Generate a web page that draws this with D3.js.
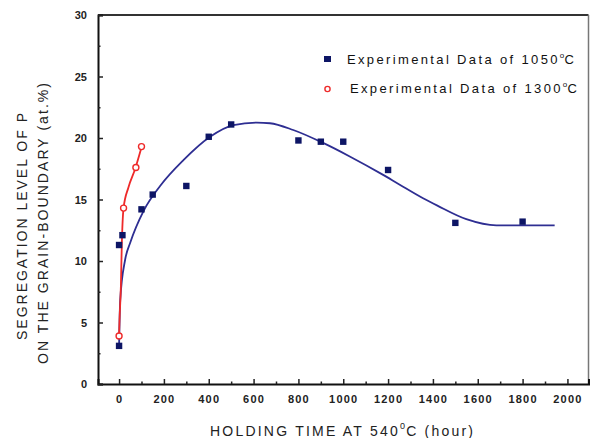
<!DOCTYPE html>
<html>
<head>
<meta charset="utf-8">
<script src="https://cdn.jsdelivr.net/npm/d3@7"></script>
<style>
  body { margin: 0; background: #fff; }
  svg { display: block; font-family: "Liberation Sans", Arial, sans-serif; }
</style>
</head>
<body>
<div id="chart"></div>
<script>
// Measured points (hours, at.%)
const time1050 = [0, 0, 15, 100, 150, 300, 400, 500, 800, 900, 1000, 1200, 1500, 1800];
const seg1050 = [3.1, 11.3, 12.1, 14.2, 15.4, 16.1, 20.1, 21.1, 19.8, 19.7, 19.7, 17.4, 13.1, 13.2];
const time1300 = [0, 20, 75, 100];
const seg1300 = [3.9, 14.3, 17.6, 19.3];

// Fitted curves
const fitTime1050 = [0, 5, 27, 50, 110, 183, 287, 406, 510, 614, 673, 777, 910, 1029, 1178, 1252, 1356, 1420, 1549, 1683, 1943];
const fitSeg1050 = [3.1, 6.8, 10.1, 11.5, 14.1, 16.1, 18.2, 20.1, 21.05, 21.25, 21.2, 20.65, 19.6, 18.5, 17.0, 16.2, 15.1, 14.5, 13.4, 12.9, 12.9];
const fitTime1300 = [0, 2, 8, 12, 20, 42, 72, 101];
const fitSeg1300 = [4.0, 5.2, 7.9, 11.2, 14.3, 16.0, 17.5, 19.3];

const xMajor = d3.range(0, 2001, 200);
const xMinor = d3.range(100, 2000, 200);
const yMajor = d3.range(0, 31, 5);
const yMinor = d3.range(2.5, 30, 5);

const legendLabels = ["Experimental Data of 1050", "Experimental Data of 1300"];

const width = 590, height = 438;
const mLeft = 98, mRight = 588.5, mTop = 15, mBottom = 384;

const svg = d3.select("#chart").append("svg")
    .attr("width", width)
    .attr("height", height);

const x = d3.scaleLinear().domain([-94, 2094]).range([mLeft, mRight]);
const y = d3.scaleLinear().domain([0, 30]).range([mBottom, mTop]);

// frame top / right
svg.append("line").attr("x1", mLeft).attr("x2", mRight).attr("y1", mTop).attr("y2", mTop)
    .attr("stroke", "#333").attr("stroke-width", 2);
svg.append("line").attr("x1", mRight).attr("x2", mRight).attr("y1", mTop).attr("y2", mBottom)
    .attr("stroke", "#777").attr("stroke-width", 1.5);

// axes, ticks pointing inward
const gx = svg.append("g").attr("transform", `translate(0,${mBottom})`)
    .call(d3.axisBottom(x).tickValues(xMajor).tickSize(-5).tickPadding(11).tickFormat(d3.format("d")));
svg.append("g").attr("transform", `translate(0,${mBottom})`)
    .call(d3.axisBottom(x).tickValues(xMinor).tickSize(-2.5).tickFormat(""))
    .call(g => g.select(".domain").remove());
const gy = svg.append("g").attr("transform", `translate(${mLeft},0)`)
    .call(d3.axisLeft(y).tickValues(yMajor).tickSize(-5).tickPadding(11).tickFormat(d3.format("d")));
svg.append("g").attr("transform", `translate(${mLeft},0)`)
    .call(d3.axisLeft(y).tickValues(yMinor).tickSize(-2.5).tickFormat(""))
    .call(g => g.select(".domain").remove());

svg.selectAll(".domain").attr("stroke", "#111").attr("stroke-width", 2);
svg.selectAll(".tick line").attr("stroke", "#222").attr("stroke-width", 1.5);
gx.selectAll(".tick text").attr("font-size", 11).attr("font-weight", "bold")
    .attr("letter-spacing", 1.2).attr("fill", "#222");
gy.selectAll(".tick text").attr("font-size", 11).attr("font-weight", "bold").attr("fill", "#222");

// fitted curves
const line = d3.line().x(d => x(d[0])).y(d => y(d[1])).curve(d3.curveMonotoneX);
svg.append("path")
    .datum(fitTime1050.map((t, i) => [t, fitSeg1050[i]]))
    .attr("d", line).attr("fill", "none").attr("stroke", "#2e2e92").attr("stroke-width", 1.8);
svg.append("path")
    .datum(fitTime1300.map((t, i) => [t, fitSeg1300[i]]))
    .attr("d", line).attr("fill", "none").attr("stroke", "#ee2a2a").attr("stroke-width", 1.8);

// markers
svg.append("g").selectAll("rect")
    .data(time1050.map((t, i) => [t, seg1050[i]]))
    .join("rect")
    .attr("x", d => x(d[0]) - 3.2).attr("y", d => y(d[1]) - 3.2)
    .attr("width", 6.4).attr("height", 6.4)
    .attr("fill", "#0d1565");
svg.append("g").selectAll("circle")
    .data(time1300.map((t, i) => [t, seg1300[i]]))
    .join("circle")
    .attr("cx", d => x(d[0])).attr("cy", d => y(d[1])).attr("r", 3)
    .attr("fill", "#fff").attr("stroke", "#ee2a2a").attr("stroke-width", 1.4);

// legend
svg.append("rect").attr("x", 324).attr("y", 56).attr("width", 7).attr("height", 6).attr("fill", "#0d1565");
svg.append("circle").attr("cx", 327.5).attr("cy", 89).attr("r", 2.6)
    .attr("fill", "none").attr("stroke", "#ee2a2a").attr("stroke-width", 1.4);
const legendPos = [[347, 64], [350, 93]];
legendLabels.forEach((lab, i) => {
    const t = svg.append("text")
        .attr("x", legendPos[i][0]).attr("y", legendPos[i][1])
        .attr("font-size", 13).attr("fill", "#111")
        .attr("textLength", 227).attr("lengthAdjust", "spacing");
    t.append("tspan").text(lab);
    t.append("tspan").attr("font-size", 8).attr("dy", -6).text("o");
    t.append("tspan").attr("dy", 6).attr("dx", -2).text("C");
});

// axis titles
const xt = svg.append("text")
    .attr("x", 210).attr("y", 436)
    .attr("font-size", 14).attr("fill", "#222")
    .attr("textLength", 263).attr("lengthAdjust", "spacing");
xt.append("tspan").text("HOLDING TIME AT 540");
xt.append("tspan").attr("font-size", 9).attr("dy", -7).text("0");
xt.append("tspan").attr("dy", 7).attr("dx", -1).text("C (hour)");

svg.append("text")
    .attr("transform", "translate(27,340) rotate(-90)")
    .attr("font-size", 14).attr("fill", "#222")
    .attr("textLength", 227).attr("lengthAdjust", "spacing")
    .text("SEGREGATION LEVEL OF P");
svg.append("text")
    .attr("transform", "translate(48,364) rotate(-90)")
    .attr("font-size", 14).attr("fill", "#222")
    .attr("textLength", 281).attr("lengthAdjust", "spacing")
    .text("ON THE GRAIN-BOUNDARY (at.%)");
</script>
</body>
</html>
